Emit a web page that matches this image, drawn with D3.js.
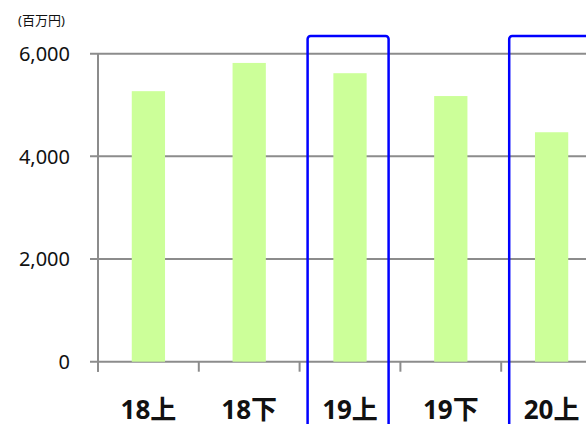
<!DOCTYPE html>
<html>
<head>
<meta charset="utf-8">
<script src="https://cdn.jsdelivr.net/npm/d3@7/dist/d3.min.js"></script>
<style>
  html, body { margin: 0; padding: 0; background: #fff; }
  svg { display: block; }
  text { font-family: "Noto Sans", "Noto Sans CJK JP", sans-serif; fill: #111; }
</style>
</head>
<body>
<svg id="chart" width="586" height="424"></svg>
<script>
// Half-year periods and sales (百万円)
const categories = ["18上", "18下", "19上", "19下", "20上"];
const sales = [5270, 5820, 5620, 5175, 4470];
const yTicks = [0, 2000, 4000, 6000];
const highlighted = ["19上", "20上"];
const unitLabel = "(百万円)";

const svg = d3.select("#chart");
const W = 586, H = 424;
const plotLeft = 98, plotRight = 602, plotTop = 53.7, plotBottom = 361.7;

const x = d3.scaleBand().domain(categories).range([plotLeft, plotRight])
  .paddingInner(0.67).paddingOuter(0.335);
const xCat = d3.scaleBand().domain(categories).range([plotLeft, plotRight]).padding(0);
const y = d3.scaleLinear().domain([0, 6000]).range([plotBottom, plotTop]);

const grid = "#8c8c8c";

// horizontal gridlines with short ticks to the left of the axis
svg.append("g").selectAll("line").data(yTicks).join("line")
  .attr("x1", plotLeft - 8).attr("x2", W)
  .attr("y1", d => y(d)).attr("y2", d => y(d))
  .attr("stroke", grid).attr("stroke-width", 2);

// vertical axis line
svg.append("line")
  .attr("x1", plotLeft).attr("x2", plotLeft)
  .attr("y1", y(6000)).attr("y2", plotBottom + 10)
  .attr("stroke", grid).attr("stroke-width", 2);

// category boundary ticks below the baseline
const step = xCat.step();
svg.append("g").selectAll("line").data(d3.range(categories.length + 1)).join("line")
  .attr("x1", i => plotLeft + i * step).attr("x2", i => plotLeft + i * step)
  .attr("y1", plotBottom).attr("y2", plotBottom + 10)
  .attr("stroke", grid).attr("stroke-width", 2);

// y tick labels
svg.append("g").selectAll("text").data(yTicks).join("text")
  .attr("x", 70).attr("y", d => y(d))
  .attr("dy", "0.36em")
  .attr("text-anchor", "end")
  .style("font-size", "20px")
  .text(d => d3.format(",")(d));

// unit label
svg.append("text")
  .attr("x", 18).attr("y", 25)
  .style("font-size", "13px")
  .text(unitLabel);

// bars
svg.append("g").selectAll("rect").data(categories).join("rect")
  .attr("x", d => x(d))
  .attr("width", x.bandwidth())
  .attr("y", (d, i) => y(sales[i]))
  .attr("height", (d, i) => y(0) - y(sales[i]))
  .attr("fill", "#ccff99");

// category labels
svg.append("g").selectAll("text").data(categories).join("text")
  .attr("x", d => xCat(d) + step / 2)
  .attr("y", 419)
  .attr("text-anchor", "middle")
  .style("font-size", "26px")
  .style("font-weight", "bold")
  .text(d => d);

// highlight frames around selected periods
svg.append("g").selectAll("rect").data(highlighted).join("rect")
  .attr("x", d => xCat(d) + 8)
  .attr("y", 36)
  .attr("width", 81)
  .attr("height", 420)
  .attr("rx", 3)
  .attr("fill", "none")
  .attr("stroke", "#0000ff")
  .attr("stroke-width", 2.5);
</script>
</body>
</html>
